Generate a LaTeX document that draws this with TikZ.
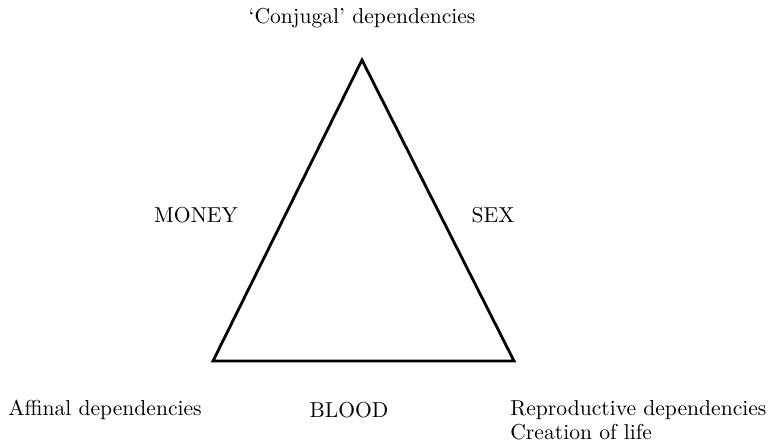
\documentclass[tikz,border=0pt]{standalone}
\usepackage{amsmath,amssymb}
\usepackage{xcolor}
\usepackage{tikz}

\begin{document}
\begin{tikzpicture}[x=0.5pt,y=-0.5pt,
    lbl/.style={inner sep=0pt,font=\fontsize{10.8}{13}\selectfont},
    side/.style={draw=black,line width=1.4pt,line join=miter}]
  \useasboundingbox (0,0) rectangle (768,444);
  \def\top{60}
  \def\base{361}
  \coordinate (apex) at (362,\top);
  \coordinate (left) at (213,\base);
  \coordinate (right) at (514,\base);
  \draw[side] (apex) -- (right) -- (left) -- cycle;
  \node[lbl] (conj) at (362,18) {`Conjugal' dependencies};
  \node[lbl] (money) at (196,215) {MONEY};
  \node[lbl] (sex) at (493,215) {SEX};
  \node[lbl,anchor=west] (affin) at (8,410) {Affinal dependencies};
  \node[lbl] (blood) at (349,410) {BLOOD};
  \node[lbl,anchor=west] (repro) at (510,410) {Reproductive dependencies};
  \node[lbl,anchor=west] (life) at (510,432) {Creation of life};
\end{tikzpicture}
\end{document}
